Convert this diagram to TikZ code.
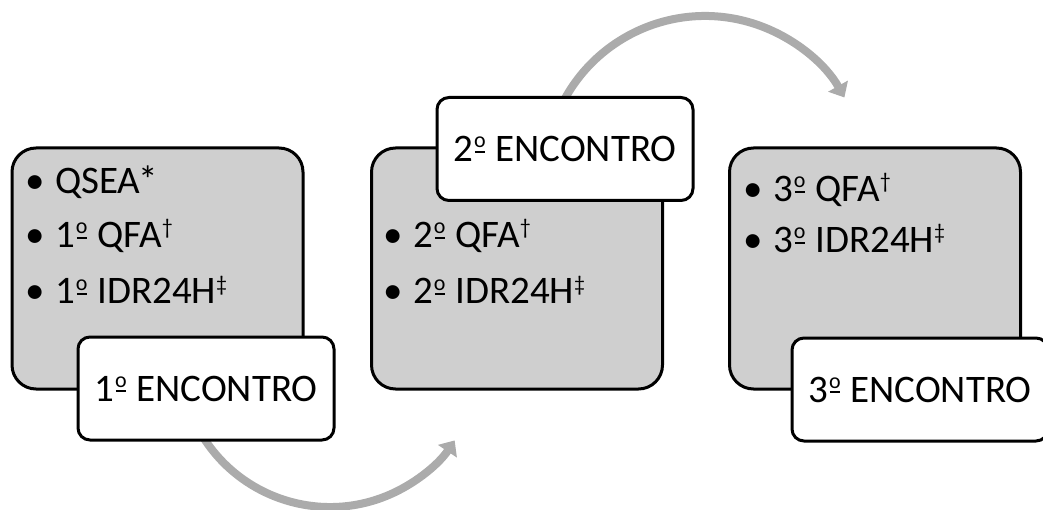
\documentclass[tikz,border=0pt]{standalone}
\usepackage{fontspec}
\setmainfont{Carlito}
\usetikzlibrary{arrows.meta,calc}
\definecolor{boxgray}{HTML}{CFCFCF}
\definecolor{arcgray}{HTML}{ABABAB}
\newcommand\itembullet{\makebox[30pt][l]{•}}
% raised daggers and an underlined ordinal mark, sized for 39pt text
\newcommand\supdagger{\raisebox{13pt}{\fontsize{22}{22}\selectfont †}}
\newcommand\supddagger{\raisebox{13pt}{\fontsize{22}{22}\selectfont ‡}}
\newcommand\ordmark{\kern1pt\raisebox{14pt}{\fontsize{22}{22}\selectfont
  \ooalign{o\cr\hidewidth\rule[-5pt]{10pt}{2pt}\hidewidth}}\kern1pt}
\begin{document}
\begin{tikzpicture}[x=1pt,y=1pt,
  stage/.style={draw=black, line width=3pt, fill=boxgray, rounded corners=24pt,
    minimum width=291pt, minimum height=241pt, inner sep=0pt},
  tag/.style={draw=black, line width=3pt, fill=white, rounded corners=12pt,
    minimum width=256pt, minimum height=103pt, inner sep=0pt,
    font=\fontsize{39}{47}\selectfont},
  item/.style={anchor=base west, inner sep=0pt, font=\fontsize{39}{47}\selectfont},
  flow/.style={draw=arcgray, line width=8pt, -{Triangle[length=13pt,width=22pt]}}]
\useasboundingbox (0,0) rectangle (1043,509);

% curved arrows between the meetings (drawn first, they pass under the tags)
\coordinate (flowAstart) at ($(330,152)+(-155:150)$);
\coordinate (flowBstart) at ($(705,333)+(160:160)$);
\draw[flow] (flowAstart) arc[start angle=-155, end angle=-33.8, radius=150];
\draw[flow] (flowBstart) arc[start angle=160, end angle=29.4, radius=160];

% grey content blocks
\node[stage] (s1) at (157.5,240.5) {};
\node[stage] (s2) at (517,240.5) {};
\node[stage] (s3) at (875,240.5) {};

% questionnaires of each meeting
\node[item] (s1a) at (25,315) {\itembullet QSEA\kern-2pt*};
\node[item] (s1b) at (25,261) {\itembullet 1\ordmark{} QFA\supdagger};
\node[item] (s1c) at (25,205) {\itembullet 1\ordmark{} IDR24H\supddagger};

\node[item] (s2a) at (383,261) {\itembullet 2\ordmark{} QFA\supdagger};
\node[item] (s2b) at (383,205) {\itembullet 2\ordmark{} IDR24H\supddagger};

\node[item] (s3a) at (743,307) {\itembullet 3\ordmark{} QFA\supdagger};
\node[item] (s3b) at (743,256) {\itembullet 3\ordmark{} IDR24H\supddagger};

% meeting tags
\node[tag] (t1) at (206,120.5) {1\ordmark{} ENCONTRO};
\node[tag] (t2) at (565,360) {2\ordmark{} ENCONTRO};
\node[tag] (t3) at (920,119.5) {3\ordmark{} ENCONTRO};
\end{tikzpicture}
\end{document}
